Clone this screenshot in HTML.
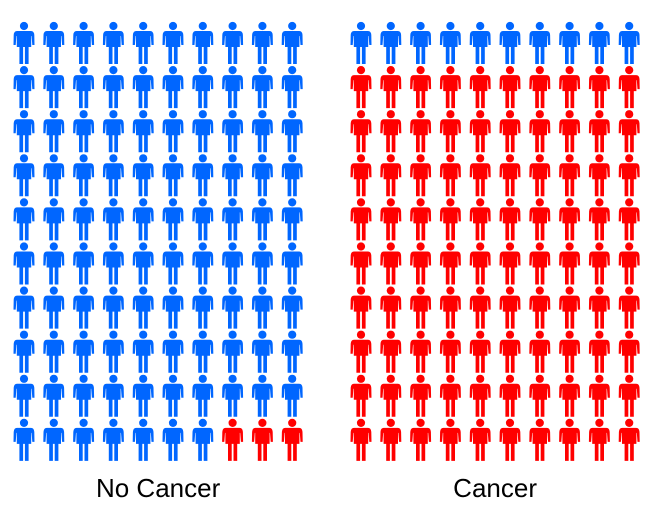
<!DOCTYPE html>
<html><head><meta charset="utf-8"><style>
body{margin:0;background:#fff;width:650px;height:516px;overflow:hidden}
svg{display:block}
text{font-family:"Liberation Sans",sans-serif}
</style></head><body>
<svg id="chart" width="650" height="516"></svg>
<script>
const groups = ["No Cancer", "Cancer"];
const cancerCounts = [3, 90];
const totalPerGroup = [100, 100];
const groupX0 = [24, 361];
const colStep = 29.8, rowStep = 44.1, rowY0 = 26;
const svg = document.getElementById('chart');
const NS = 'http://www.w3.org/2000/svg';
function person(cx, cy, color){
  const g = document.createElementNS(NS,'g');
  g.setAttribute('fill', color);
  const h = document.createElementNS(NS,'circle');
  h.setAttribute('cx',cx);h.setAttribute('cy',cy);h.setAttribute('r',4.1);
  g.appendChild(h);
  const p = document.createElementNS(NS,'path');
  const d = `M${cx-7},${cy+5} L${cx+7},${cy+5} Q${cx+10},${cy+5} ${cx+10.3},${cy+9} L${cx+10.5},${cy+19} L${cx+8.3},${cy+19} L${cx+7.6},${cy+10} L${cx+7.2},${cy+10} L${cx+7.2},${cy+21}
  L${cx+4.6},${cy+21} L${cx+4.6},${cy+38} L${cx+0.9},${cy+38} L${cx+0.9},${cy+21} L${cx-0.9},${cy+21} L${cx-0.9},${cy+38} L${cx-4.6},${cy+38} L${cx-4.6},${cy+21} L${cx-7.2},${cy+21}
  L${cx-7.2},${cy+10} L${cx-7.6},${cy+10} L${cx-8.3},${cy+19} L${cx-10.5},${cy+19} L${cx-10.3},${cy+9} Q${cx-10},${cy+5} ${cx-7},${cy+5} Z`;
  p.setAttribute('d',d);
  g.appendChild(p);
  return g;
}
groups.forEach((name, gi)=>{
  const grp = document.createElementNS(NS,'g');
  
  
  const n = totalPerGroup[gi], red = cancerCounts[gi];
  for(let i=0;i<n;i++){
    const row = Math.floor(i/10), col = i%10;
    const isRed = i >= n-red;
    const icon = person(groupX0[gi]+col*colStep, rowY0+row*rowStep, isRed ? '#ff0000' : '#0066ff');
    
    
    grp.appendChild(icon);
  }
  svg.appendChild(grp);
  const t = document.createElementNS(NS,'text');
  t.setAttribute('x', groupX0[gi]+4.5*colStep);
  t.setAttribute('y', 497);
  t.setAttribute('text-anchor','middle');
  t.setAttribute('font-size','26');
  t.setAttribute('fill','#000');
  t.textContent = name;
  
  
  svg.appendChild(t);
});
</script>
</body></html>
